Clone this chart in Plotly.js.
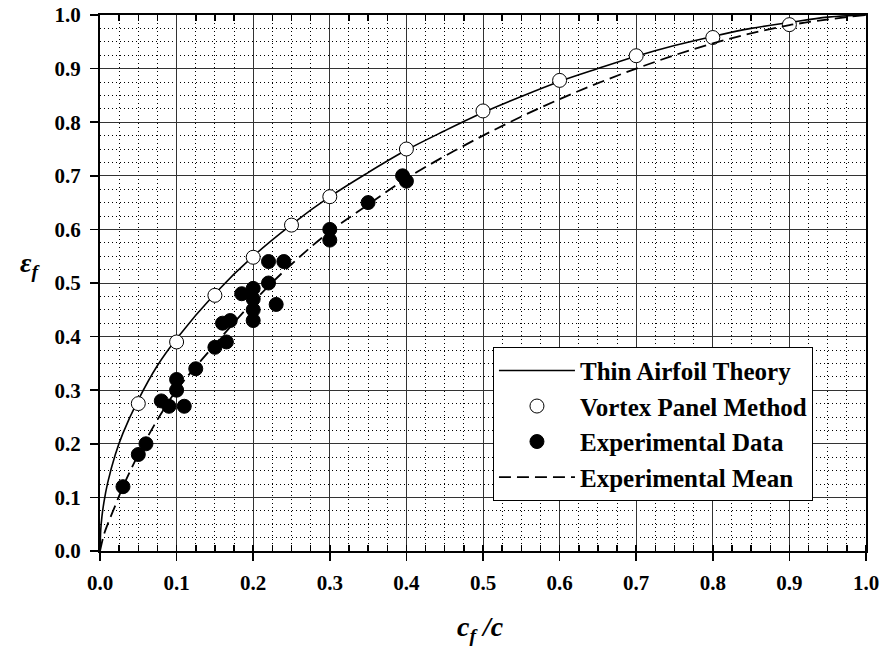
<!DOCTYPE html>
<html>
<head>
<meta charset="utf-8">
<script src="https://cdn.plot.ly/plotly-3.0.1.min.js"></script>
<style>html,body{margin:0;padding:0;background:#fff;}#chart{width:880px;height:654px;}</style>
</head>
<body>
<div id="chart"></div>
<script>
// Thin airfoil theory curve
var theoryX = [0, 0.001, 0.0025, 0.005, 0.01, 0.02, 0.03, 0.05, 0.075, 0.1, 0.15, 0.2, 0.25, 0.3, 0.35, 0.4, 0.45, 0.5, 0.55, 0.6, 0.65, 0.7, 0.75, 0.8, 0.85, 0.9, 0.95, 1.0];
var theoryY = [0, 0.04, 0.064, 0.09, 0.127, 0.18, 0.22, 0.282, 0.346, 0.396, 0.48, 0.55, 0.609, 0.661, 0.706, 0.748, 0.784, 0.818, 0.848, 0.876, 0.9, 0.923, 0.943, 0.96, 0.975, 0.986, 0.996, 1.0];
// Vortex panel method (open circles)
var vortexX = [0.05, 0.1, 0.15, 0.2, 0.25, 0.3, 0.4, 0.5, 0.6, 0.7, 0.8, 0.9];
var vortexY = [0.275, 0.39, 0.477, 0.548, 0.608, 0.661, 0.75, 0.821, 0.878, 0.924, 0.958, 0.982];
// Experimental data (filled circles)
var expX = [0.03, 0.05, 0.06, 0.08, 0.09, 0.10, 0.10, 0.11, 0.125, 0.15, 0.165, 0.16, 0.17, 0.185, 0.20, 0.20, 0.20, 0.20, 0.22, 0.23, 0.22, 0.24, 0.30, 0.30, 0.35, 0.395, 0.40];
var expY = [0.12, 0.18, 0.20, 0.28, 0.27, 0.30, 0.32, 0.27, 0.34, 0.38, 0.39, 0.425, 0.43, 0.48, 0.49, 0.47, 0.45, 0.43, 0.50, 0.46, 0.54, 0.54, 0.60, 0.58, 0.65, 0.70, 0.69];
// Experimental mean (dashed)
var meanX = [0, 0.005, 0.01, 0.02, 0.03, 0.05, 0.075, 0.1, 0.15, 0.2, 0.25, 0.3, 0.35, 0.4, 0.5, 0.6, 0.7, 0.8, 0.9, 1.0];
var meanY = [0, 0.03, 0.05, 0.085, 0.12, 0.18, 0.245, 0.30, 0.385, 0.465, 0.535, 0.596, 0.646, 0.695, 0.775, 0.843, 0.90, 0.947, 0.981, 1.0];

var names = ["Thin Airfoil Theory", "Vortex Panel Method", "Experimental Data", "Experimental Mean"];

var serif = "'Liberation Serif'";

var traces = [
  {x: theoryX, y: theoryY, name: names[0], mode: "lines", type: "scatter",
   line: {color: "black", width: 1.6, shape: "spline"}},
  {x: vortexX, y: vortexY, name: names[1], mode: "markers", type: "scatter",
   marker: {symbol: "circle", size: 14, color: "white", line: {color: "black", width: 1}}},
  {x: expX, y: expY, name: names[2], mode: "markers", type: "scatter",
   marker: {symbol: "circle", size: 14, color: "black", line: {color: "black", width: 1}}},
  {x: meanX, y: meanY, name: names[3], mode: "lines", type: "scatter",
   line: {color: "black", width: 1.8, dash: "12px,6px", shape: "spline"}},
  {x: [0], y: [0], xaxis: "x2", mode: "markers", type: "scatter", showlegend: false,
   hoverinfo: "skip", marker: {opacity: 0}}
];

var tickFont = {family: serif, size: 21, weight: "bold", color: "black"};

var layout = {
  width: 880, height: 654,
  margin: {l: 100, r: 14, t: 15, b: 103},
  paper_bgcolor: "white", plot_bgcolor: "white",
  font: {family: serif, color: "black"},
  showlegend: true,
  xaxis: {
    range: [0, 1], dtick: 0.1, tick0: 0, tickformat: ".1f",
    ticks: "outside", ticklen: 8, tickwidth: 1.5, tickcolor: "black",
    showline: true, linecolor: "black", linewidth: 2, mirror: true,
    showgrid: true, gridcolor: "#333", gridwidth: 1, zeroline: false,
    tickfont: tickFont, ticklabelstandoff: 4,
    minor: {dtick: 0.025, ticks: "inside", ticklen: 6, tickwidth: 1.5, tickcolor: "black",
            showgrid: true, gridcolor: "black", gridwidth: 1, griddash: "1px,3px"}
  },
  xaxis2: {
    overlaying: "x", side: "top", anchor: "y", range: [0, 1], dtick: 0.1,
    showticklabels: false, ticks: "", showgrid: false, zeroline: false, showline: false,
    minor: {dtick: 0.025, ticks: "inside", ticklen: 6, tickwidth: 1.5, tickcolor: "black", showgrid: false}
  },
  yaxis: {
    range: [0, 1], dtick: 0.1, tick0: 0, tickformat: ".1f",
    ticks: "outside", ticklen: 8, tickwidth: 1.5, tickcolor: "black",
    showline: true, linecolor: "black", linewidth: 2, mirror: true,
    showgrid: true, gridcolor: "#333", gridwidth: 1, zeroline: false,
    tickfont: tickFont, ticklabelstandoff: 5,
    minor: {dtick: 0.025, ticks: "", showgrid: true, gridcolor: "black", gridwidth: 1, griddash: "1px,3px"}
  },
  legend: {
    x: 0.513, y: 0.381, xanchor: "left", yanchor: "top",
    bgcolor: "white", bordercolor: "black", borderwidth: 1,
    font: {family: serif, size: 25, weight: "bold", color: "black"},
    itemwidth: 76, tracegroupgap: 0
  },
  annotations: [
    {text: "<b><i>c</i></b><sub><b><i>f</i></b></sub><b><i> /c</i></b>", xref: "paper", yref: "paper",
     x: 0.497, y: -0.144, xanchor: "center", yanchor: "middle", showarrow: false,
     font: {family: serif, size: 28, color: "black"}},
    {text: "<b><i>ε</i></b><sub><b><i>f</i></b></sub>", xref: "paper", yref: "paper",
     x: -0.091, y: 0.534, xanchor: "center", yanchor: "middle", showarrow: false,
     font: {family: serif, size: 28, color: "black"}}
  ]
};

Plotly.newPlot("chart", traces, layout, {displayModeBar: false, staticPlot: true});
</script>
</body>
</html>
